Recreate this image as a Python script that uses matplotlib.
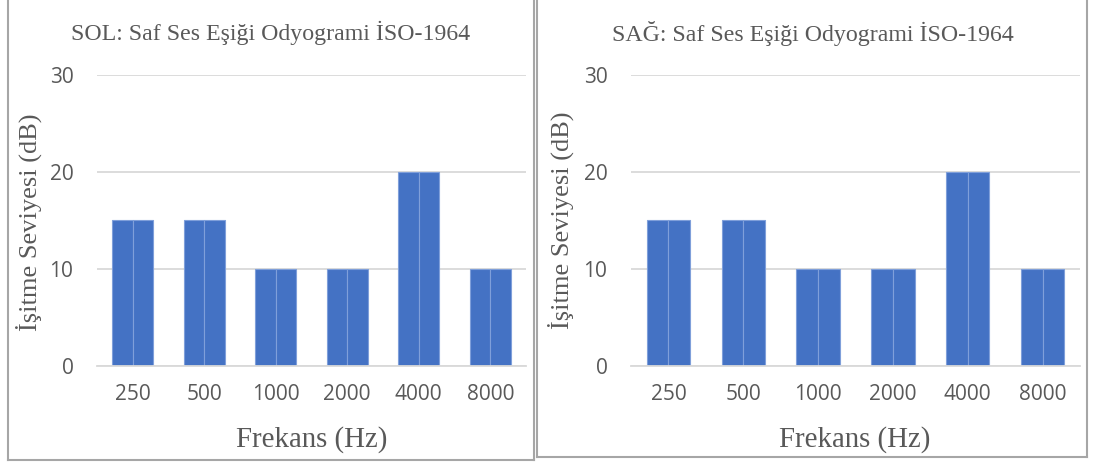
import matplotlib
matplotlib.use("Agg")
import matplotlib.pyplot as plt
from matplotlib.lines import Line2D
import numpy as np

# ---- data ----
frequencies = ["250", "500", "1000", "2000", "4000", "8000"]
left_series_a = [15, 15, 10, 10, 20, 10]
left_series_b = [15, 15, 10, 10, 20, 10]
right_series_a = [15, 15, 10, 10, 20, 10]
right_series_b = [15, 15, 10, 10, 20, 10]
left_title = "SOL: Saf Ses Eşiği Odyogrami İSO-1964"
right_title = "SAĞ: Saf Ses Eşiği Odyogrami İSO-1964"
y_ticks = [0, 10, 20, 30]
x_label = "Frekans (Hz)"
y_label = "İşitme Seviyesi (dB)"

W, H = 1093, 463
fig = plt.figure(figsize=(W / 100, H / 100), dpi=100)
fig.patch.set_facecolor("white")

BAR = "#4472C4"
EDGE = "#7F9FDA"
GRID = "#D9D9D9"
TXT = "#595959"
SERIF = ["Liberation Serif", "DejaVu Serif"]
SANS = ["Open Sans", "DejaVu Sans"]


def fx(px):
    return px / W


def fy(py):
    return 1 - py / H


def panel(x0, x1, title, sa, sb, title_pos, xlabel_pos, ylabel_pos):
    y_top, y_bot = 74.7, 365.7
    ax = fig.add_axes([fx(x0), fy(y_bot), fx(x1) - fx(x0), (y_bot - y_top) / H])
    x = np.arange(len(frequencies))
    group = 0.58
    w = group / 2
    ax.bar(x - w / 2, sa, width=w, color=BAR, edgecolor=EDGE, linewidth=0.8, zorder=3)
    ax.bar(x + w / 2, sb, width=w, color=BAR, edgecolor=EDGE, linewidth=0.8, zorder=3)
    ax.set_xlim(-0.5, len(frequencies) - 0.5)
    ax.set_ylim(0, 30)
    ax.set_yticks(y_ticks)
    ax.set_xticks(x)
    ax.set_xticklabels(frequencies)
    ax.grid(axis="y", color=GRID, linewidth=1.3, zorder=0)
    for s in ["top", "right", "left"]:
        ax.spines[s].set_visible(False)
    ax.spines["bottom"].set_color(GRID)
    ax.spines["bottom"].set_linewidth(1.3)
    ax.spines["bottom"].set_zorder(4)
    ax.tick_params(axis="both", length=0, colors=TXT, labelsize=15)
    ax.tick_params(axis="y", pad=17)
    ax.tick_params(axis="x", pad=13)
    for lab in ax.get_xticklabels() + ax.get_yticklabels():
        lab.set_family(SANS)
    fig.text(fx(title_pos[0]), fy(title_pos[1]), title, ha="center", va="center",
             family=SERIF, fontsize=17.2, color=TXT)
    fig.text(fx(xlabel_pos[0]), fy(xlabel_pos[1]), x_label, ha="center", va="center",
             family=SERIF, fontsize=20.8, color=TXT)
    fig.text(fx(ylabel_pos[0]), fy(ylabel_pos[1]), y_label, ha="center", va="center",
             rotation=90, family=SERIF, fontsize=19, color=TXT)
    return ax


panel(97, 526, left_title, left_series_a, left_series_b, (271, 33), (312, 440), (29, 222))
panel(631, 1080, right_title, right_series_a, right_series_b, (813, 34), (855, 440), (561, 220))

BORDER = "#A6A6A6"
lw = 1.5
# left panel frame
fig.add_artist(Line2D([fx(8), fx(8)], [fy(-5), fy(460)], color=BORDER, lw=lw))
fig.add_artist(Line2D([fx(534), fx(534)], [fy(-5), fy(460)], color=BORDER, lw=lw))
fig.add_artist(Line2D([fx(8), fx(534)], [fy(460), fy(460)], color=BORDER, lw=lw))
# right panel frame
fig.add_artist(Line2D([fx(536.5), fx(536.5)], [fy(-5), fy(457)], color=BORDER, lw=lw))
fig.add_artist(Line2D([fx(1087), fx(1087)], [fy(-5), fy(457)], color=BORDER, lw=lw))
fig.add_artist(Line2D([fx(536.5), fx(1087)], [fy(457), fy(457)], color=BORDER, lw=lw))

fig.savefig("out.png", dpi=100)
